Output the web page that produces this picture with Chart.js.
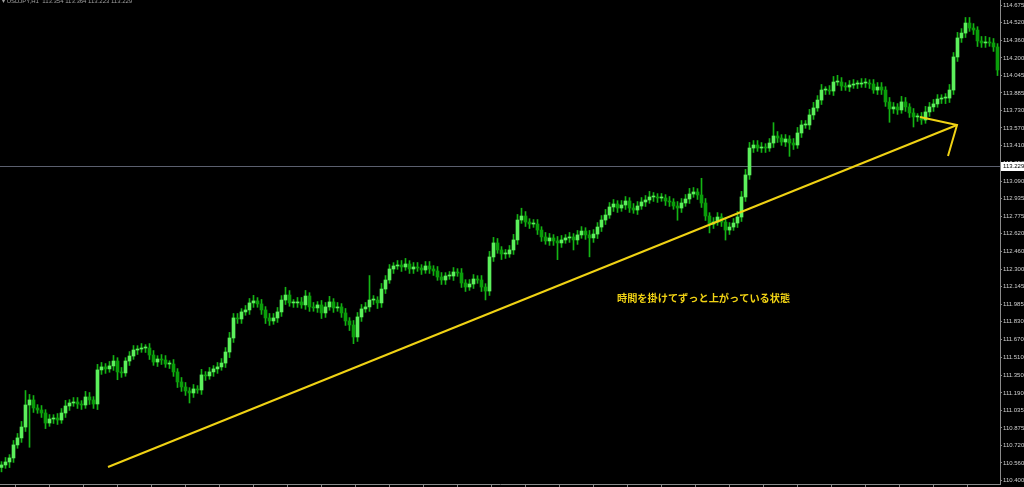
<!DOCTYPE html>
<html>
<head>
<meta charset="utf-8">
<script src="https://cdn.jsdelivr.net/npm/chart.js@4.4.1/dist/chart.umd.min.js"></script>
<style>
html, body { margin: 0; padding: 0; background: #000; }
canvas { display: block; }
</style>
</head>
<body>
<canvas id="chart" width="1024" height="487"></canvas>
<script>
// closes, left to right (one candle every 4px)
var closes = [
  110.542, 110.569, 110.605, 110.722, 110.785, 110.883, 111.081, 111.126, 111.054, 111.036,
  111.009, 110.919, 110.955, 110.964, 110.946, 111.009, 111.072, 111.099, 111.108, 111.090,
  111.081, 111.153, 111.126, 111.090, 111.396, 111.423, 111.405, 111.432, 111.476, 111.378,
  111.369, 111.476, 111.521, 111.575, 111.584, 111.593, 111.593, 111.530, 111.467, 111.494,
  111.485, 111.449, 111.449, 111.378, 111.288, 111.243, 111.207, 111.189, 111.225, 111.216,
  111.351, 111.342, 111.378, 111.405, 111.423, 111.458, 111.557, 111.683, 111.863, 111.854,
  111.917, 111.935, 111.998, 112.016, 111.989, 111.935, 111.863, 111.836, 111.863, 111.917,
  112.024, 112.069, 111.998, 111.998, 112.007, 111.980, 112.060, 111.962, 111.953, 111.980,
  111.908, 111.962, 112.007, 111.953, 111.962, 111.908, 111.836, 111.800, 111.692, 111.872,
  111.944, 111.962, 112.024, 112.024, 111.998, 112.123, 112.204, 112.303, 112.330, 112.339,
  112.321, 112.348, 112.303, 112.321, 112.312, 112.294, 112.330, 112.303, 112.285, 112.231,
  112.204, 112.240, 112.240, 112.276, 112.267, 112.177, 112.141, 112.168, 112.213, 112.204,
  112.141, 112.105, 112.411, 112.537, 112.474, 112.438, 112.438, 112.474, 112.564, 112.743,
  112.779, 112.725, 112.707, 112.707, 112.653, 112.591, 112.555, 112.582, 112.555, 112.537,
  112.564, 112.582, 112.591, 112.564, 112.609, 112.644, 112.609, 112.582, 112.617, 112.680,
  112.743, 112.788, 112.860, 112.887, 112.851, 112.878, 112.914, 112.851, 112.833, 112.869,
  112.905, 112.923, 112.950, 112.950, 112.941, 112.941, 112.914, 112.905, 112.869, 112.851,
  112.896, 112.932, 112.977, 112.995, 112.968, 112.896, 112.779, 112.707, 112.725, 112.770,
  112.725, 112.653, 112.680, 112.716, 112.770, 112.950, 113.148, 113.390, 113.417, 113.390,
  113.399, 113.390, 113.435, 113.498, 113.480, 113.444, 113.471, 113.435, 113.417, 113.525,
  113.597, 113.597, 113.687, 113.750, 113.821, 113.911, 113.911, 113.902, 113.983, 113.983,
  113.947, 113.938, 113.956, 113.965, 113.965, 113.974, 113.974, 113.965, 113.911, 113.938,
  113.911, 113.804, 113.741, 113.759, 113.732, 113.804, 113.759, 113.705, 113.669, 113.669,
  113.642, 113.714, 113.759, 113.786, 113.830, 113.839, 113.839, 113.911, 114.208, 114.379,
  114.423, 114.513, 114.468, 114.450, 114.352, 114.334, 114.343, 114.334, 114.298, 114.091
];
var firstOpen = 110.52;

// wick lengths beyond the body, in pips (0.01)
var upWick = [
  3, 4, 3, 4, 4, 5, 13, 5, 4, 3,   4, 3, 4, 3, 4, 4, 5, 3, 4, 4,
  3, 5, 4, 3, 5, 4, 3, 4, 5, 3,    4, 3, 4, 4, 3, 4, 3, 4, 4, 3,
  4, 4, 3, 4, 3, 4, 4, 3, 4, 3,    5, 3, 4, 3, 4, 4, 4, 5, 4, 4,
  3, 4, 4, 5, 3, 4, 3, 4, 4, 4,    4, 7, 4, 3, 4, 4, 5, 3, 4, 3,
  4, 4, 5, 3, 4, 3, 4, 3, 4, 4,    4, 4, 22, 4, 3, 5, 4, 4, 3, 4,
  4, 5, 3, 4, 4, 3, 4, 4, 3, 4,    4, 3, 4, 4, 3, 4, 3, 4, 4, 3,
  4, 3, 5, 5, 4, 3, 4, 4, 5, 5,    7, 4, 3, 4, 4, 3, 4, 4, 3, 4,
  4, 3, 4, 3, 4, 4, 3, 4, 4, 4,    4, 5, 4, 4, 3, 4, 4, 3, 4, 4,
  4, 4, 5, 4, 3, 4, 3, 4, 3, 4,    4, 4, 5, 4, 3, 15, 4, 3, 4, 4,
  3, 4, 4, 4, 5, 5, 5, 5, 4, 4,    4, 3, 4, 12, 4, 3, 4, 3, 4, 5,
  4, 4, 5, 5, 4, 5, 3, 4, 5, 6,    4, 3, 4, 4, 3, 4, 4, 3, 4, 4,
  4, 3, 4, 4, 3, 5, 4, 3, 4, 3,    4, 5, 4, 4, 4, 3, 4, 5, 4, 5,
  4, 5, 5, 4, 3, 4, 5, 4, 4, 3
];
var downWick = [
  4, 3, 5, 4, 3, 4, 4, 38, 4, 3,   4, 5, 3, 4, 4, 3, 4, 4, 3, 4,
  4, 3, 4, 4, 5, 4, 4, 3, 4, 7,    4, 3, 4, 3, 4, 3, 4, 4, 3, 4,
  4, 3, 4, 4, 5, 4, 4, 9, 4, 3,    4, 4, 3, 4, 4, 3, 4, 5, 4, 4,
  4, 3, 4, 4, 3, 4, 5, 4, 3, 4,    4, 4, 3, 4, 4, 3, 4, 4, 3, 4,
  5, 4, 3, 4, 3, 4, 4, 5, 6, 4,    4, 3, 4, 4, 5, 4, 4, 3, 4, 3,
  4, 3, 4, 4, 3, 4, 3, 4, 4, 3,    4, 4, 3, 4, 3, 4, 4, 3, 4, 3,
  4, 8, 4, 4, 3, 5, 4, 3, 4, 4,    3, 4, 4, 3, 4, 4, 3, 4, 4, 15,
  4, 3, 4, 9, 4, 3, 4, 17, 4, 4,   4, 4, 3, 4, 4, 3, 4, 4, 3, 4,
  3, 4, 3, 4, 4, 3, 4, 4, 3, 11,   4, 3, 4, 3, 4, 4, 4, 8, 4, 3,
  4, 9, 4, 3, 4, 4, 4, 4, 4, 3,    4, 4, 3, 4, 4, 3, 4, 12, 4, 3,
  4, 3, 4, 4, 3, 4, 4, 3, 4, 3,    4, 3, 4, 3, 4, 3, 4, 4, 3, 4,
  4, 4, 12, 4, 4, 3, 4, 4, 9, 4,   4, 3, 4, 4, 3, 4, 5, 4, 4, 4,
  4, 4, 3, 4, 5, 4, 4, 3, 4, 5
];

var priceTicks = [
  114.675, 114.520, 114.360, 114.200, 114.045, 113.885, 113.730, 113.570, 113.410, 113.250,
  113.090, 112.935, 112.775, 112.620, 112.460, 112.300, 112.145, 111.985, 111.830, 111.670,
  111.510, 111.350, 111.190, 111.035, 110.875, 110.720, 110.560, 110.400
];
var lastPrice = 113.229;
var headerText = '\u25BE USDJPY,H1  113.354 113.364 113.223 113.229';

// hand-drawn yellow arrow and note (candle index, price)
var trendLine = [{ x: 26.625, y: 110.524 }, { x: 238.875, y: 113.597 }];
var arrowHead = [{ x: 229.625, y: 113.669 }, { x: 238.875, y: 113.597 }, { x: 236.625, y: 113.318 }];
var noteText = '時間を掛けてずっと上がっている状態';
var notePos = { x: 153.875, y: 112.042 };

var yellow = '#f0d214';

var wicks = [], bodies = [], bodyColors = [];
for (var i = 0; i < closes.length; i++) {
  var open = i === 0 ? firstOpen : closes[i - 1];
  var close = closes[i];
  wicks.push({ x: i, y: [Math.min(open, close) - downWick[i] / 100, Math.max(open, close) + upWick[i] / 100] });
  bodies.push({ x: i, y: [open, close] });
  bodyColors.push(close >= open ? '#5cf05c' : '#0a9e0a');
}

var bottomTicks = [];
for (var t = 7.625; t < closes.length; t += 8.5) bottomTicks.push(t);

var overlay = {
  id: 'overlay',
  beforeDatasetsDraw: function (chart) {
    var c = chart.ctx, a = chart.chartArea;
    var y = Math.round(chart.scales.y.getPixelForValue(lastPrice)) + 0.5;
    c.save();
    c.strokeStyle = '#5b5f6e';
    c.lineWidth = 1;
    c.beginPath();
    c.moveTo(a.left, y);
    c.lineTo(a.right, y);
    c.stroke();
    c.restore();
  },
  afterDraw: function (chart) {
    var c = chart.ctx, a = chart.chartArea;
    var xs = chart.scales.x, ys = chart.scales.y;
    c.save();
    // current price box on the axis
    var y = Math.round(ys.getPixelForValue(lastPrice));
    c.fillStyle = '#ffffff';
    c.fillRect(a.right + 1, y - 4, 23, 9);
    c.fillStyle = '#000000';
    c.font = '6px "Liberation Sans"';
    c.textBaseline = 'middle';
    c.textAlign = 'left';
    c.fillText(lastPrice.toFixed(3), a.right + 3, y + 0.5);
    // note
    c.fillStyle = yellow;
    c.font = 'bold 10.2px "Noto Sans CJK JP"';
    c.fillText(noteText, xs.getPixelForValue(notePos.x), ys.getPixelForValue(notePos.y));
    // symbol header
    c.fillStyle = '#a0a0a0';
    c.font = '6px "Liberation Sans"';
    c.fillText(headerText, 2, 1.5);
    c.restore();
  }
};

new Chart(document.getElementById('chart'), {
  type: 'bar',
  data: {
    datasets: [
      { data: wicks, backgroundColor: '#14b414', barThickness: 1, grouped: false, order: 3, borderWidth: 0 },
      { data: bodies, backgroundColor: bodyColors, barThickness: 3, grouped: false, order: 2, borderWidth: 0, minBarLength: 1 },
      { type: 'line', data: trendLine, borderColor: yellow, borderWidth: 2, pointRadius: 0, order: 1 },
      { type: 'line', data: arrowHead, borderColor: yellow, borderWidth: 2, pointRadius: 0, order: 1 }
    ]
  },
  options: {
    responsive: false,
    animation: false,
    events: [],
    layout: { padding: 0 },
    plugins: { legend: { display: false }, tooltip: { enabled: false } },
    scales: {
      x: {
        type: 'linear',
        min: -0.375,
        max: closes.length - 0.375,
        offset: false,
        afterBuildTicks: function (s) { s.ticks = bottomTicks.map(function (v) { return { value: v }; }); },
        afterFit: function (s) { s.height = 3; s.paddingLeft = 0; s.paddingRight = 0; },
        ticks: { display: false },
        grid: { drawOnChartArea: false, tickLength: 3, color: '#8a8a8a' },
        border: { color: '#8a8a8a' }
      },
      y: {
        position: 'right',
        min: 110.371,
        max: 114.720,
        afterBuildTicks: function (s) { s.ticks = priceTicks.map(function (v) { return { value: v }; }); },
        afterFit: function (s) { s.width = 24; s.paddingTop = 0; s.paddingBottom = 0; },
        ticks: {
          autoSkip: false,
          padding: 1,
          color: '#cfcfcf',
          font: { family: 'Liberation Sans', size: 6 },
          callback: function (v) { return Number(v).toFixed(3); }
        },
        grid: { drawOnChartArea: false, tickLength: 2, color: '#8a8a8a' },
        border: { color: '#8a8a8a' }
      }
    }
  },
  plugins: [overlay]
});
</script>
</body>
</html>
